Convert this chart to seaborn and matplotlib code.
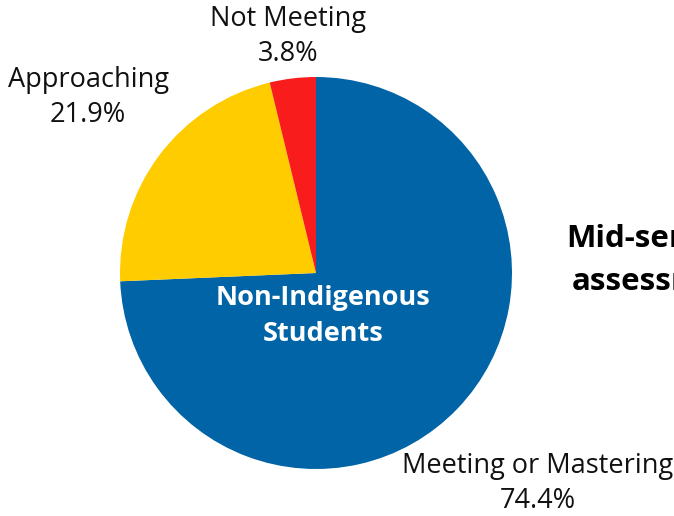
import matplotlib
matplotlib.use("Agg")
import matplotlib.pyplot as plt
import seaborn as sns

categories = ["Meeting or Mastering", "Approaching", "Not Meeting"]
values = [74.4, 21.9, 3.8]
pct_labels = ["74.4%", "21.9%", "3.8%"]
colors = ["#0064A6", "#FFCC00", "#F81C1C"]
center_title = ["Non-Indigenous", "Students"]
side_title = ["Mid-semester", "assessment"]

sns.set_theme(style="white")
plt.rcParams["font.family"] = ["Open Sans", "DejaVu Sans"]

W, H = 674, 516
fig = plt.figure(figsize=(W / 100, H / 100), dpi=100)
ax = fig.add_axes([0, 0, 1, 1])

cx, cy, r = 316, H - 273, 196
ax.pie(values, colors=colors, startangle=90, counterclock=False,
       center=(cx, cy), radius=r, frame=True,
       wedgeprops=dict(linewidth=0))
ax.set_xlim(0, W)
ax.set_ylim(0, H)
ax.set_aspect("equal")
ax.axis("off")

fs = 19.5
label_pos = {"Meeting or Mastering": (538, 466), "Approaching": (88, 80), "Not Meeting": (288, 19)}
for cat, pl in zip(categories, pct_labels):
    x, y = label_pos[cat]
    ax.text(x, H - y, cat, ha="center", va="center", fontsize=fs, color="#111111")
    ax.text(x, H - y - 35, pl, ha="center", va="center", fontsize=fs, color="#111111")

ax.text(323, H - 298, center_title[0], ha="center", va="center", fontsize=fs,
        fontweight="bold", color="white")
ax.text(323, H - 334, center_title[1], ha="center", va="center", fontsize=fs,
        fontweight="bold", color="white")

ax.text(566, H - 239, side_title[0], ha="left", va="center", fontsize=22.5,
        fontweight="bold", color="black")
ax.text(572, H - 282, side_title[1], ha="left", va="center", fontsize=22.5,
        fontweight="bold", color="black")

fig.savefig("out.png", dpi=100)
